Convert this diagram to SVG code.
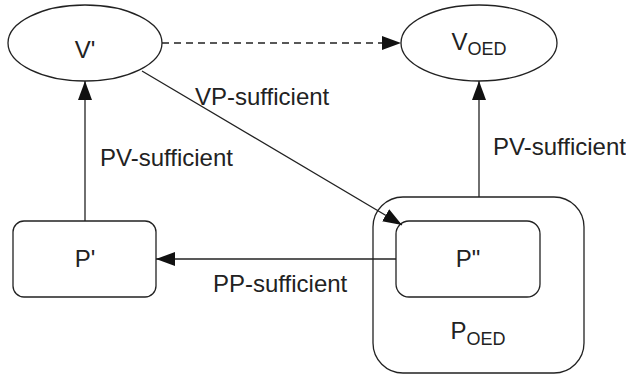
<svg xmlns="http://www.w3.org/2000/svg" width="626" height="375" viewBox="0 0 626 375">
  <style>
    .shape { fill: #ffffff; stroke: #222222; stroke-width: 1.3; }
    .edge { fill: none; stroke: #222222; stroke-width: 1.3; }
    .dashed { stroke-dasharray: 7 5; }
    .label { font-family: "Liberation Sans", Arial, sans-serif; font-size: 24px; fill: #222222; }
    .sub { font-size: 18px; }
  </style>
  <defs>
    <marker id="arrow" markerUnits="userSpaceOnUse" markerWidth="19" markerHeight="14" refX="19" refY="7" orient="auto">
      <path d="M0,0 L19,7 L0,14 z" fill="#111111"/>
    </marker>
  </defs>

  <rect width="626" height="375" fill="#ffffff"/>

  <!-- nodes -->
  <g id="v-prime">
    <ellipse class="shape" cx="85" cy="43" rx="77" ry="38"/>
    <text class="label" x="85" y="58" text-anchor="middle">V'</text>
  </g>

  <g id="v-oed">
    <ellipse class="shape" cx="479" cy="43" rx="78" ry="38"/>
    <text class="label" x="479" y="50" text-anchor="middle">V<tspan class="sub" dy="5">OED</tspan></text>
  </g>

  <g id="p-oed">
    <rect class="shape" x="373" y="197" width="211" height="176" rx="30" ry="30"/>
    <text class="label" x="478" y="339" text-anchor="middle">P<tspan class="sub" dy="6">OED</tspan></text>
  </g>

  <g id="p-double-prime">
    <rect class="shape" x="396" y="221" width="144" height="76" rx="13" ry="13"/>
    <text class="label" x="468" y="267" text-anchor="middle">P"</text>
  </g>

  <g id="p-prime">
    <rect class="shape" x="13" y="221" width="143" height="76" rx="11" ry="11"/>
    <text class="label" x="85" y="267" text-anchor="middle">P'</text>
  </g>

  <!-- connectors, drawn over the nodes so they cross the container border -->
  <g id="edges">
    <line class="edge dashed" x1="162" y1="43" x2="401" y2="43" marker-end="url(#arrow)"/>
    <line class="edge" x1="142" y1="71" x2="402" y2="225" marker-end="url(#arrow)"/>
    <line class="edge" x1="85" y1="221" x2="85" y2="81" marker-end="url(#arrow)"/>
    <line class="edge" x1="479" y1="197" x2="479" y2="81" marker-end="url(#arrow)"/>
    <line class="edge" x1="396" y1="259" x2="156" y2="259" marker-end="url(#arrow)"/>
    <text class="label" x="195" y="105">VP-sufficient</text>
    <text class="label" x="100" y="166">PV-sufficient</text>
    <text class="label" x="493" y="155">PV-sufficient</text>
    <text class="label" x="213" y="292">PP-sufficient</text>
  </g>
</svg>
